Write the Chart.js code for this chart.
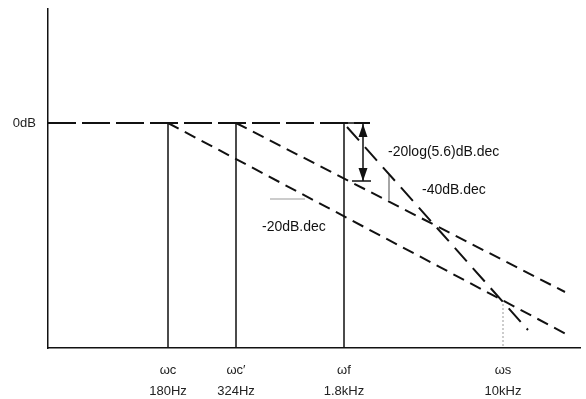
<!DOCTYPE html>
<html><head><meta charset="utf-8">
<script src="https://cdn.jsdelivr.net/npm/chart.js@4"></script>
<style>html,body{margin:0;padding:0;background:#fff}#wrap{width:586px;height:399px;position:relative}</style>
</head><body><div id="wrap"><canvas id="c"></canvas></div>
<script>
// Sketch units: x = position along the (schematic) frequency axis, y = gain (0 = 0dB level)
const symbols = ['ωc', 'ωc′', 'ωf', 'ωs'];
const freqLabels = ['180Hz', '324Hz', '1.8kHz', '10kHz'];
const breakX = [120, 188, 296, 455];
const yTicks = [0];
const yTickLabels = ['0dB'];
const xMin = 0, xMax = 532, yMin = -225, yMax = 114;

const zeroDbX = [0, 322];
const slope1X = [120, 520], slope1Y = [0, -212];
const slope2X = [188, 517], slope2Y = [0, -169];
const steepX = [299, 480], steepY = [-4, -207];
const sDotY = [-177, -225];
const arrowX = 315, arrowY = [-1, -58];
const arrowBottomBarX = [304, 323];
const mark40X = 341, mark40Y = [-52, -77];
const mark20X = [222, 257], mark20Y = -76;

const notes = [
  {text: '-20log(5.6)dB.dec', x: 340, y: -29},
  {text: '-40dB.dec', x: 374, y: -67},
  {text: '-20dB.dec', x: 214, y: -104}
];

const pts = (xs, ys) => xs.map((x, i) => ({x, y: Array.isArray(ys) ? ys[i] : ys}));
const base = {showLine: true, pointRadius: 0, fill: false, borderColor: '#111', tension: 0};

const datasets = [
  {...base, data: pts(zeroDbX, [0, 0]), borderWidth: 2, borderDash: [28, 6]},
  {...base, data: pts(slope1X, slope1Y), borderWidth: 2, borderDash: [12, 7]},
  {...base, data: pts(slope2X, slope2Y), borderWidth: 2, borderDash: [12, 7]},
  {...base, data: pts(steepX, steepY), borderWidth: 2, borderDash: [18, 9]},
  ...breakX.slice(0, 3).map(bx => ({...base, data: pts([bx, bx], [0, yMin]), borderWidth: 1.5})),
  {...base, data: pts([breakX[3], breakX[3]], sDotY), borderWidth: 1, borderColor: '#999', borderDash: [2, 2]},
  {...base, data: pts([breakX[2], zeroDbX[1]], [0, 0]), borderWidth: 1.5},
  {...base, data: pts(arrowBottomBarX, [arrowY[1], arrowY[1]]), borderWidth: 1.5},
  {...base, data: pts([arrowX, arrowX], arrowY), borderWidth: 1.5},
  {...base, data: pts([mark40X, mark40X], mark40Y), borderWidth: 1, borderColor: '#999'},
  {...base, data: pts(mark20X, [mark20Y, mark20Y]), borderWidth: 1, borderColor: '#999'}
];

const annot = {
  id: 'annot',
  afterDatasetsDraw(chart) {
    const {ctx, scales: {x, y}} = chart;
    ctx.save();
    ctx.fillStyle = '#111';
    const ax = x.getPixelForValue(arrowX);
    const yt = y.getPixelForValue(arrowY[0]);
    const yb = y.getPixelForValue(arrowY[1]);
    ctx.beginPath(); ctx.moveTo(ax, yt); ctx.lineTo(ax - 4.5, yt + 13); ctx.lineTo(ax + 4.5, yt + 13); ctx.closePath(); ctx.fill();
    ctx.beginPath(); ctx.moveTo(ax, yb); ctx.lineTo(ax - 4.5, yb - 13); ctx.lineTo(ax + 4.5, yb - 13); ctx.closePath(); ctx.fill();
    ctx.font = '14px "Liberation Sans", Arial, sans-serif';
    ctx.textBaseline = 'middle';
    ctx.textAlign = 'left';
    notes.forEach(n => ctx.fillText(n.text, x.getPixelForValue(n.x), y.getPixelForValue(n.y)));
    ctx.restore();
  }
};

new Chart(document.getElementById('c'), {
  type: 'scatter',
  data: {datasets},
  options: {
    responsive: true, maintainAspectRatio: false, animation: false,
    layout: {padding: {top: 9, right: 6, left: 0, bottom: 0}},
    plugins: {legend: {display: false}, tooltip: {enabled: false}},
    scales: {
      x: {
        type: 'linear', min: xMin, max: xMax,
        grid: {display: true, color: 'transparent', drawTicks: false},
        border: {display: true, color: '#111', width: 1.5},
        afterBuildTicks: s => { s.ticks = breakX.map(v => ({value: v})); },
        afterFit: s => { s.height = 51; },
        ticks: {
          autoSkip: false, maxRotation: 0, padding: 12, color: '#222',
          font: {family: '"Liberation Sans", Arial, sans-serif', size: 13, lineHeight: '21px'},
          callback: (v) => { const i = breakX.indexOf(v); return i >= 0 ? [symbols[i], freqLabels[i]] : ''; }
        }
      },
      y: {
        type: 'linear', min: yMin, max: yMax,
        grid: {display: true, color: 'transparent', drawTicks: false},
        border: {display: true, color: '#111', width: 1.5},
        afterBuildTicks: s => { s.ticks = yTicks.map(v => ({value: v})); },
        afterFit: s => { s.width = 48; s.paddingTop = 0; s.paddingBottom = 0; },
        ticks: {
          padding: 12, color: '#222',
          font: {family: '"Liberation Sans", Arial, sans-serif', size: 13},
          callback: (v) => { const i = yTicks.indexOf(v); return i >= 0 ? yTickLabels[i] : ''; }
        }
      }
    }
  },
  plugins: [annot]
});
</script>
</body></html>
